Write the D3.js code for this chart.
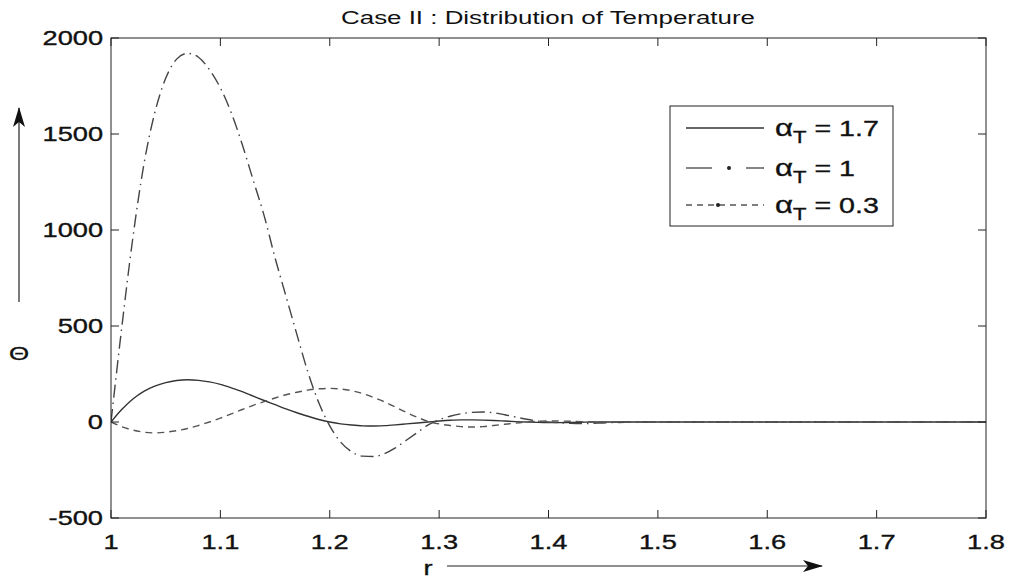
<!DOCTYPE html>
<html>
<head>
<meta charset="utf-8">
<title>Case II : Distribution of Temperature</title>
<script src="https://d3js.org/d3.v7.min.js"></script>
<style>
  body { margin: 0; background: #fff; }
  text { font-family: "Liberation Sans", Arial, sans-serif; fill: #111; }
</style>
</head>
<body>
<svg width="1011" height="580"></svg>
<script>
// r values (x axis)
var rVals = [1.00, 1.01, 1.02, 1.03, 1.04, 1.05, 1.06, 1.07, 1.08, 1.09,
             1.10, 1.11, 1.12, 1.13, 1.14, 1.15, 1.16, 1.17, 1.18, 1.19,
             1.20, 1.21, 1.22, 1.23, 1.24, 1.25, 1.26, 1.27, 1.28, 1.29,
             1.30, 1.31, 1.32, 1.33, 1.34, 1.35, 1.36, 1.37, 1.38, 1.39,
             1.40, 1.41, 1.42, 1.43, 1.44, 1.45, 1.46, 1.47, 1.48, 1.49,
             1.50, 1.60, 1.70, 1.80];

// theta for alpha_T = 1.7 (solid)
var theta17 = [0, 66, 120, 160, 187, 205, 216, 220, 217, 209,
               196, 178, 158, 135, 112, 90, 68, 48, 30, 13,
               0, -10, -16, -20, -21, -19, -15, -10, -5, 0,
               5, 9, 11, 11, 10, 8, 5, 2, 0, -2,
               -3, -3, -2, -1, 0, 0, 0, 0, 0, 0,
               0, 0, 0, 0];

// theta for alpha_T = 1 (dash-dot)
var theta1 = [0, 500, 960, 1340, 1610, 1790, 1890, 1920, 1900, 1835,
              1740, 1610, 1445, 1260, 1075, 855, 655, 455, 260, 100,
              -20, -105, -155, -178, -180, -165, -135, -95, -55, -15,
              12, 30, 43, 50, 52, 48, 38, 26, 14, 5,
              0, -4, -7, -8, -7, -5, -3, -1, 0, 0,
              0, 0, 0, 0];

// theta for alpha_T = 0.3 (dashed)
var theta03 = [0, -25, -42, -53, -57, -53, -45, -34, -18, 0,
               20, 42, 65, 87, 106, 125, 142, 155, 166, 173,
               175, 172, 163, 148, 128, 105, 78, 50, 25, 3,
               -10, -18, -24, -26, -24, -18, -12, -6, 0, 3,
               5, 5, 4, 2, 0, -1, -1, 0, 0, 0,
               0, 0, 0, 0];

var xTicks = [1, 1.1, 1.2, 1.3, 1.4, 1.5, 1.6, 1.7, 1.8];
var yTicks = [-500, 0, 500, 1000, 1500, 2000];
var seriesNames = ["1.7", "1", "0.3"];

var svg = d3.select("svg");
var plot = {left: 111, right: 986, top: 38, bottom: 518};
var sx = 1.36; // the figure is stretched sideways

var x = d3.scaleLinear().domain([1, 1.8]).range([plot.left, plot.right]);
var y = d3.scaleLinear().domain([-500, 2000]).range([plot.bottom, plot.top]);

function label(parent, tx, ty, str, size, anchor, scale, weight) {
    return parent.append("text")
        .attr("transform", "translate(" + tx + "," + ty + ") scale(" + (scale || sx) + ",1)")
        .attr("text-anchor", anchor || "middle")
        .attr("font-size", size)
        .attr("stroke", "#111").attr("stroke-width", weight === undefined ? 0.35 : weight)
        .text(str);
}

var defs = svg.append("defs");
defs.append("marker").attr("id", "arr")
    .attr("viewBox", "0 0 20 12").attr("refX", 19).attr("refY", 6)
    .attr("markerWidth", 20).attr("markerHeight", 12)
    .attr("markerUnits", "userSpaceOnUse").attr("orient", "auto")
    .append("path").attr("d", "M0,0 L20,6 L0,12 L5,6 Z").attr("fill", "#111");
defs.append("clipPath").attr("id", "clip").append("rect")
    .attr("x", plot.left).attr("y", plot.top)
    .attr("width", plot.right - plot.left).attr("height", plot.bottom - plot.top);

// curves
var styles = [
    {data: theta17, dash: null, color: "#333"},
    {data: theta1, dash: "13,5,1.5,5", color: "#444"},
    {data: theta03, dash: "7,5", color: "#555"}
];
var line = d3.line().curve(d3.curveMonotoneX);
var curves = svg.append("g").attr("clip-path", "url(#clip)");
styles.forEach(function (s) {
    curves.append("path")
        .attr("d", line(rVals.map(function (r, i) { return [x(r), y(s.data[i])]; })))
        .attr("fill", "none")
        .attr("stroke", s.color)
        .attr("stroke-width", 1.4)
        .attr("stroke-dasharray", s.dash);
});

// frame and ticks (ticks inside, on all four sides)
var axes = svg.append("g").attr("stroke", "#222").attr("stroke-width", 1);
axes.append("rect")
    .attr("x", plot.left).attr("y", plot.top)
    .attr("width", plot.right - plot.left).attr("height", plot.bottom - plot.top)
    .attr("fill", "none");
var tl = 8;
xTicks.forEach(function (t) {
    axes.append("line").attr("x1", x(t)).attr("x2", x(t)).attr("y1", plot.bottom).attr("y2", plot.bottom - tl);
    axes.append("line").attr("x1", x(t)).attr("x2", x(t)).attr("y1", plot.top).attr("y2", plot.top + tl);
    label(svg, x(t), 549, String(t), 20);
});
yTicks.forEach(function (t) {
    axes.append("line").attr("x1", plot.left).attr("x2", plot.left + tl).attr("y1", y(t)).attr("y2", y(t));
    axes.append("line").attr("x1", plot.right).attr("x2", plot.right - tl).attr("y1", y(t)).attr("y2", y(t));
    label(svg, 103, y(t) + 7, String(t), 20, "end");
});

// title
label(svg, 548, 24, "Case II : Distribution of Temperature", 17.5, "middle", 1.48, 0);

// axis labels with arrows
label(svg, 19, 360, "\u0398", 19);
svg.append("line").attr("x1", 19).attr("x2", 19).attr("y1", 302).attr("y2", 108)
    .attr("stroke", "#222").attr("stroke-width", 1.2).attr("marker-end", "url(#arr)");
label(svg, 428, 575, "r", 20);
svg.append("line").attr("x1", 447).attr("x2", 822).attr("y1", 566).attr("y2", 566)
    .attr("stroke", "#222").attr("stroke-width", 1.2).attr("marker-end", "url(#arr)");

// legend
var lg = svg.append("g");
lg.append("rect").attr("x", 670).attr("y", 106).attr("width", 223).attr("height", 120)
    .attr("fill", "#fff").attr("stroke", "#222");
var rowY = [128, 168, 205];
seriesNames.forEach(function (n, i) {
    var s = styles[i];
    var ly = rowY[i];
    if (i === 0) {
        lg.append("line").attr("x1", 686).attr("x2", 764).attr("y1", ly).attr("y2", ly)
            .attr("stroke", s.color).attr("stroke-width", 1.3);
    } else if (i === 1) {
        lg.append("line").attr("x1", 686).attr("x2", 712).attr("y1", ly).attr("y2", ly)
            .attr("stroke", s.color).attr("stroke-width", 1.3);
        lg.append("line").attr("x1", 746).attr("x2", 764).attr("y1", ly).attr("y2", ly)
            .attr("stroke", s.color).attr("stroke-width", 1.3);
        lg.append("circle").attr("cx", 729).attr("cy", ly).attr("r", 2).attr("fill", "#222");
    } else {
        lg.append("line").attr("x1", 686).attr("x2", 764).attr("y1", ly).attr("y2", ly)
            .attr("stroke", s.color).attr("stroke-width", 1.3).attr("stroke-dasharray", "6,5");
        lg.append("circle").attr("cx", 718).attr("cy", ly).attr("r", 2).attr("fill", "#222");
    }
    var t = label(lg, 775, ly + 8, "", 22, "start", 1.3);
    t.append("tspan").attr("font-size", 24).text("\u03b1");
    t.append("tspan").attr("font-size", 17).attr("dy", 7).text("T");
    t.append("tspan").attr("dy", -7).text(" = " + n);
});
</script>
</body>
</html>
